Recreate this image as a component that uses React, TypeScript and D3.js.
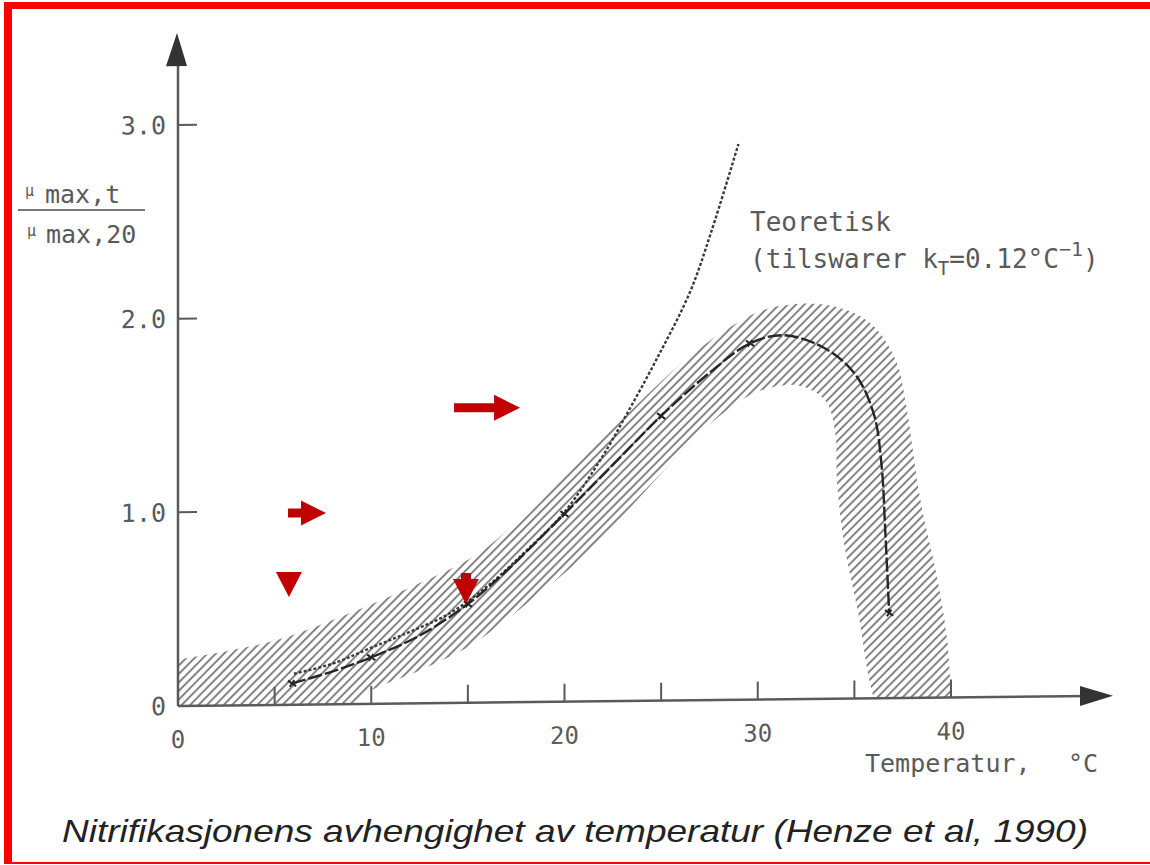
import React from 'react';
import * as d3 from 'd3';

// measured nitrification rate curve (temperature °C, mu_max,t / mu_max,20)
const measured: [number, number][] = [
  [5.9, 0.11], [8, 0.17], [10, 0.24], [12.5, 0.35], [15, 0.51], [17, 0.68],
  [20, 0.97], [22.5, 1.22], [25, 1.47], [27.5, 1.69], [29.6, 1.84], [31.3, 1.88],
  [33.3, 1.82], [35, 1.68], [36, 1.47], [36.4, 1.21], [36.6, 0.86], [36.8, 0.44],
];
const measuredMarks: [number, number][] = [
  [5.9, 0.11], [10, 0.24], [15, 0.51], [20, 0.97], [25, 1.47], [29.6, 1.84], [36.8, 0.44],
];

// theoretical curve (k_T = 0.12 /°C)
const theory: [number, number][] = [
  [6, 0.16], [8, 0.21], [10, 0.29], [12, 0.37], [14, 0.46], [16, 0.6], [18, 0.78],
  [20, 0.98], [22, 1.27], [23.1, 1.46], [24.8, 1.77], [26.5, 2.11], [27.6, 2.42], [29, 2.87],
];

// scatter band (hatched)
const bandUpper: [number, number][] = [
  [0, 0.24], [2.5, 0.28], [5.3, 0.34], [8.4, 0.45], [11.8, 0.59], [15.7, 0.78], [19, 1.08],
  [22.8, 1.44], [26.9, 1.81], [30, 2.0], [31.8, 2.04], [33.8, 2.03], [35.2, 1.98], [36.2, 1.9],
  [37.2, 1.73], [37.7, 1.5], [38.4, 1.03], [39.3, 0.61], [39.8, 0.3], [40, 0],
];
const bandLower: [number, number][] = [
  [36, 0], [35.7, 0.13], [35.2, 0.44], [34.5, 0.78], [34.1, 1.12], [34.0, 1.38], [33.5, 1.54],
  [32.1, 1.62], [30, 1.59], [27.7, 1.44], [21.1, 0.76], [18.7, 0.56], [15.2, 0.3], [12.5, 0.17],
  [10, 0.07], [9, 0], [0, 0],
];

const xTicks = [5, 10, 15, 20, 25, 30, 35, 40];
const xLabels = [0, 10, 20, 30, 40];
const yTicks = [1, 2, 3];
const yLabels = ['0', '1.0', '2.0', '3.0'];

// red annotation arrows (tip position in data units)
const arrows = [
  { kind: 'right', t: 17.7, v: 1.54, shaft: 40, head: 26, hh: 13 },
  { kind: 'right', t: 7.66, v: 0.996, shaft: 13, head: 25, hh: 12.5 },
  { kind: 'tri', t: 5.74, v: 0.563, shaft: 0, head: 25, hh: 13 },
  { kind: 'down', t: 14.9, v: 0.527, shaft: 6, head: 25, hh: 13 },
];

const W = 1150;
const H = 865;
const mono = '"DejaVu Sans Mono", "Liberation Mono", monospace';
const gray = '#5a5a5a';

export default function App() {
  const x = d3.scaleLinear().domain([0, 40]).range([178, 951]);
  const y = d3.scaleLinear().domain([0, 3]).range([706, 125]);
  const x0 = x(0);
  const y0 = y(0);
  const k = -0.011; // the scan is slightly tilted

  const smooth = d3.line<[number, number]>()
    .x(d => x(d[0]))
    .y(d => y(d[1]))
    .curve(d3.curveCatmullRom.alpha(0.5));
  const straight = d3.line<[number, number]>().x(d => x(d[0])).y(d => y(d[1]));

  const bandPath =
    (smooth(bandUpper) || '') +
    (smooth(bandLower.slice(0, 16)) || '').replace(/^M/, 'L') +
    (straight(bandLower.slice(15)) || '').replace(/^M/, 'L') + 'Z';

  const arrowPath = (a: typeof arrows[number]) => {
    const tx = x(a.t);
    const ty = y(a.v);
    if (a.kind === 'right') {
      const sh = 4.5;
      return `M${tx},${ty} L${tx - a.head},${ty - a.hh} L${tx - a.head},${ty - sh} L${tx - a.head - a.shaft},${ty - sh}
        L${tx - a.head - a.shaft},${ty + sh} L${tx - a.head},${ty + sh} L${tx - a.head},${ty + a.hh} Z`;
    }
    if (a.kind === 'down') {
      const sw = 5;
      return `M${tx},${ty} L${tx - a.hh},${ty - a.head} L${tx - sw},${ty - a.head} L${tx - sw},${ty - a.head - a.shaft}
        L${tx + sw},${ty - a.head - a.shaft} L${tx + sw},${ty - a.head} L${tx + a.hh},${ty - a.head} Z`;
    }
    return `M${tx},${ty} L${tx - a.hh},${ty - a.head} L${tx + a.hh},${ty - a.head} Z`;
  };

  return (
    <svg
      width={W}
      height={H}
      style={{ position: 'absolute', left: 0, top: 0, background: '#fff' }}
    >
      <defs>
        <pattern id="hatch" patternUnits="userSpaceOnUse" width={6} height={10} patternTransform="rotate(45)">
          <line x1={3} y1={0} x2={3} y2={10} stroke="#505050" strokeWidth={1.4} />
        </pattern>
      </defs>
      <rect width={W} height={H} fill="#fff" />

      {/* red frame */}
      <rect x={4} y={2} width={8} height={862} fill="#ff0000" />
      <rect x={4} y={2} width={W - 4} height={7} fill="#ff0000" />
      <rect x={4} y={862} width={W - 4} height={2} fill="#ff0000" />

      <g transform={`matrix(1,${k},0,1,0,${-k * x0})`}>
        {/* hatched band */}
        <path d={bandPath} fill="url(#hatch)" stroke="none" />

        {/* theoretical curve */}
        <path d={smooth(theory) || ''} fill="none" stroke="#3a3a3a" strokeWidth={2.4} strokeDasharray="3 2" />

        {/* measured curve */}
        <path d={smooth(measured) || ''} fill="none" stroke="#262626" strokeWidth={2.4} strokeDasharray="14 3" />
        {measuredMarks.map((d, i) => (
          <g key={i} transform={`translate(${x(d[0])},${y(d[1])}) rotate(35)`}>
            <line x1={-5} x2={5} y1={0} y2={0} stroke="#222" strokeWidth={2} />
            <line x1={0} x2={0} y1={-4} y2={4} stroke="#222" strokeWidth={2} />
          </g>
        ))}

        {/* axes */}
        <line x1={x0} y1={y0} x2={1090} y2={y0} stroke={gray} strokeWidth={2.5} />
        <path d={`M1113,${y0} L1080,${y0 - 10} L1080,${y0 + 10} Z`} fill="#333" />
        <line x1={x0} y1={y0} x2={x0} y2={55} stroke={gray} strokeWidth={2.5} />
        <path d={`M${x0 - 1},33 L${x0 - 12},66 L${x0 + 9},66 Z`} fill="#333" />

        {xTicks.map(t => (
          <line key={t} x1={x(t)} x2={x(t)} y1={y0} y2={y0 - 18} stroke={gray} strokeWidth={2} />
        ))}
        {yTicks.map(t => (
          <line key={t} x1={x0} x2={x0 + 19} y1={y(t)} y2={y(t)} stroke={gray} strokeWidth={2} />
        ))}
        {xLabels.map(t => (
          <text key={t} x={x(t)} y={y0 + 42} textAnchor="middle" fontFamily={mono} fontSize={24} fill={gray}>
            {t}
          </text>
        ))}
        {yLabels.map((s, i) => (
          <text key={s} x={166} y={y(i)} dy="0.36em" textAnchor="end" fontFamily={mono} fontSize={25} fill={gray}>
            {s}
          </text>
        ))}
      </g>

      {/* y axis label as a fraction */}
      <g fontFamily={mono} fill={gray}>
        <text x={25} y={196} fontSize={15}>μ</text>
        <text x={45} y={203} fontSize={25}>max,t</text>
        <line x1={18} x2={145} y1={210} y2={210} stroke="#777" strokeWidth={2} />
        <text x={27} y={236} fontSize={15}>μ</text>
        <text x={46} y={243} fontSize={25}>max,20</text>
      </g>

      {/* theoretical label */}
      <g fontFamily={mono} fill={gray} fontSize={26}>
        <text x={750} y={231}>Teoretisk</text>
        <text x={750} y={268}>
          (tilswarer k
          <tspan fontSize={19} dy={7}>T</tspan>
          <tspan dy={-7}>=0.12°C</tspan>
          <tspan fontSize={20} dy={-12}>−1</tspan>
          <tspan dy={12}>)</tspan>
        </text>
      </g>

      {/* x axis label */}
      <text x={865} y={772} fontFamily={mono} fontSize={25} fill={gray}>
        Temperatur,
        <tspan x={1068}>°C</tspan>
      </text>

      {/* red annotation arrows */}
      {arrows.map((a, i) => (
        <path key={i} d={arrowPath(a)} fill="#c00000" />
      ))}

      {/* caption */}
      <text
        x={62}
        y={842}
        fontFamily='"Liberation Sans", Arial, sans-serif'
        fontStyle="italic"
        fontSize={32}
        fill="#222"
        textLength={1026}
        lengthAdjust="spacingAndGlyphs"
      >
        Nitrifikasjonens avhengighet av temperatur (Henze et al, 1990)
      </text>
    </svg>
  );
}
